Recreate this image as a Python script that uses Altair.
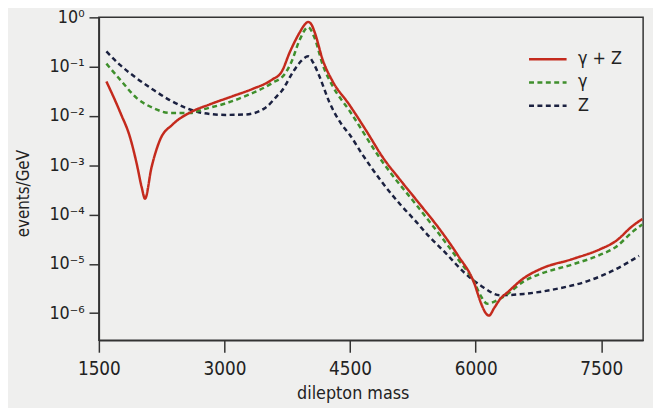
import altair as alt
import pandas as pd

# ---- data ----
series_names = ["γ + Z", "γ", "Z"]

mass_gz = [1590, 1756, 1874, 1952, 2011, 2051, 2129, 2228, 2385, 2600, 2818,
           3093, 3329, 3565, 3683, 3782, 3900, 3960, 3999, 4040, 4077, 4175, 4293,
           4490, 4700, 4890, 5100, 5300, 5591, 5786, 5984, 6063, 6120, 6160, 6220,
           6300, 6376, 6573, 6770, 7163, 7478, 7675, 7870, 7990]
val_gz = [5.0e-2, 1.17e-2, 3.6e-3, 1.07e-3, 3.6e-4, 2.1e-4, 9.1e-4, 3.2e-3,
          6.8e-3, 1.2e-2, 1.7e-2, 2.5e-2, 3.5e-2, 5.4e-2, 7.9e-2, 2.0e-1, 5.0e-1,
          7.2e-1, 8.1e-1, 7.1e-1, 5.0e-1, 1.35e-1, 5.0e-2, 1.7e-2, 4.8e-3, 1.45e-3,
          5.0e-4, 1.9e-4, 4.5e-5, 1.5e-5, 4.0e-6, 1.6e-6, 1.0e-6, 8.9e-7, 1.26e-6,
          2.0e-6, 2.6e-6, 5.1e-6, 7.8e-6, 1.26e-5, 1.95e-5, 2.9e-5, 5.8e-5, 8.1e-5]

mass_g = [1590, 1756, 1952, 2149, 2346, 2600, 2739, 3015, 3290, 3565, 3723, 3801,
          3900, 3999, 4077, 4175, 4293, 4490, 4890, 5300, 5591, 5786, 5984, 6063,
          6140, 6250, 6376, 6573, 6770, 7163, 7478, 7675, 7870, 7990]
val_g = [1.15e-1, 5.4e-2, 2.3e-2, 1.45e-2, 1.15e-2, 1.15e-2, 1.35e-2, 1.8e-2, 2.7e-2,
         4.6e-2, 7.2e-2, 1.26e-1, 3.55e-1, 6.3e-1, 3.8e-1, 1.07e-1, 4.0e-2, 1.3e-2,
         1.15e-3, 1.5e-4, 3.5e-5, 1.26e-5, 4.2e-6, 2.2e-6, 1.55e-6, 1.8e-6, 2.4e-6,
         4.4e-6, 6.2e-6, 9.8e-6, 1.5e-5, 2.2e-5, 4.4e-5, 6.3e-5]

mass_z = [1590, 1756, 1952, 2149, 2346, 2542, 2739, 3015, 3250, 3486, 3624, 3683,
          3821, 3920, 3999, 4060, 4135, 4253, 4411, 4490, 4647, 4883, 5100, 5275,
          5450, 5629, 5866, 6063, 6297, 6573, 6966, 7360, 7675, 7951]
val_z = [2.04e-1, 1.07e-1, 5.8e-2, 3.4e-2, 2.1e-2, 1.45e-2, 1.15e-2, 1.05e-2, 1.07e-2,
         1.45e-2, 2.5e-2, 3.2e-2, 7.9e-2, 1.32e-1, 1.62e-1, 1.2e-1, 6.3e-2, 1.9e-2,
         6.3e-3, 4.3e-3, 1.66e-3, 4.5e-4, 1.6e-4, 7.6e-5, 3.5e-5, 1.74e-5, 6.6e-6,
         3.6e-6, 2.3e-6, 2.45e-6, 3.1e-6, 4.6e-6, 7.8e-6, 1.45e-5]

x_ticks = [1500, 3000, 4500, 6000, 7500]
y_ticks = [1, 1e-1, 1e-2, 1e-3, 1e-4, 1e-5, 1e-6]
y_tick_labels = ["10⁰", "10⁻¹", "10⁻²", "10⁻³", "10⁻⁴", "10⁻⁵", "10⁻⁶"]

colors = ["#c42a1d", "#3f8f2c", "#1b2140"]
dashes = [[1, 0], [5, 3.5], [5, 3.5]]

# build long table; Z first so that γ + Z is drawn on top
rows = []
for name, ms, vs in [("Z", mass_z, val_z), ("γ", mass_g, val_g), ("γ + Z", mass_gz, val_gz)]:
    for m, v in zip(ms, vs):
        rows.append({"mass": m, "value": v, "series": name})
df = pd.DataFrame(rows)

FONT = "DejaVu Sans Condensed, DejaVu Sans, sans-serif"

label_arr = "[" + ",".join("'" + s + "'" for s in y_tick_labels) + "]"
y_label_expr = label_arr + "[round(-log(datum.value)/LN10)]"

legend_kw = dict(title=None, orient="none", legendX=434, legendY=34,
                 symbolType="stroke", symbolSize=1444, symbolStrokeWidth=2.5,
                 clipHeight=17, rowPadding=4.5, labelOffset=10, padding=0,
                 labelFontSize=18, labelFont=FONT, labelColor="#222")

chart = alt.Chart(df).mark_line(strokeWidth=2.5, interpolate="monotone").encode(
    x=alt.X("mass:Q",
            scale=alt.Scale(domain=[1500, 8000], nice=False, zero=False),
            axis=alt.Axis(values=x_ticks, format="d", title="dilepton mass",
                          grid=False, tickSize=12, labelPadding=8, labelFlush=False,
                          labelFontSize=19, titleFontSize=18,
                          titleX=257, titleY=59, titleBaseline="alphabetic")),
    y=alt.Y("value:Q",
            scale=alt.Scale(type="log", domain=[2.8e-7, 1], nice=False),
            axis=alt.Axis(values=y_ticks, labelExpr=y_label_expr, title="events/GeV",
                          grid=False, tickSize=10, labelPadding=5,
                          labelFontSize=18, titleFontSize=17,
                          titleX=-76, titleY=178, titleBaseline="middle")),
    color=alt.Color("series:N",
                    scale=alt.Scale(domain=series_names, range=colors),
                    legend=alt.Legend(**legend_kw)),
    strokeDash=alt.StrokeDash("series:N",
                              scale=alt.Scale(domain=series_names, range=dashes),
                              legend=alt.Legend(**legend_kw)),
).properties(
    width=551, height=327,
    autosize=alt.AutoSizeParams(type="none"),
    padding={"left": 92, "top": 7, "right": 10, "bottom": 66},
    background="#efefee",
).configure_view(
    stroke="#333333", strokeWidth=1.5
).configure_axis(
    labelFont=FONT, titleFont=FONT, titleFontWeight="normal",
    labelColor="#222", titleColor="#222",
    domainColor="#333333", domainWidth=1.5, tickColor="#333333", tickWidth=1.5,
)

chart.save("out.html", embed_options={"renderer": "svg", "actions": False})
